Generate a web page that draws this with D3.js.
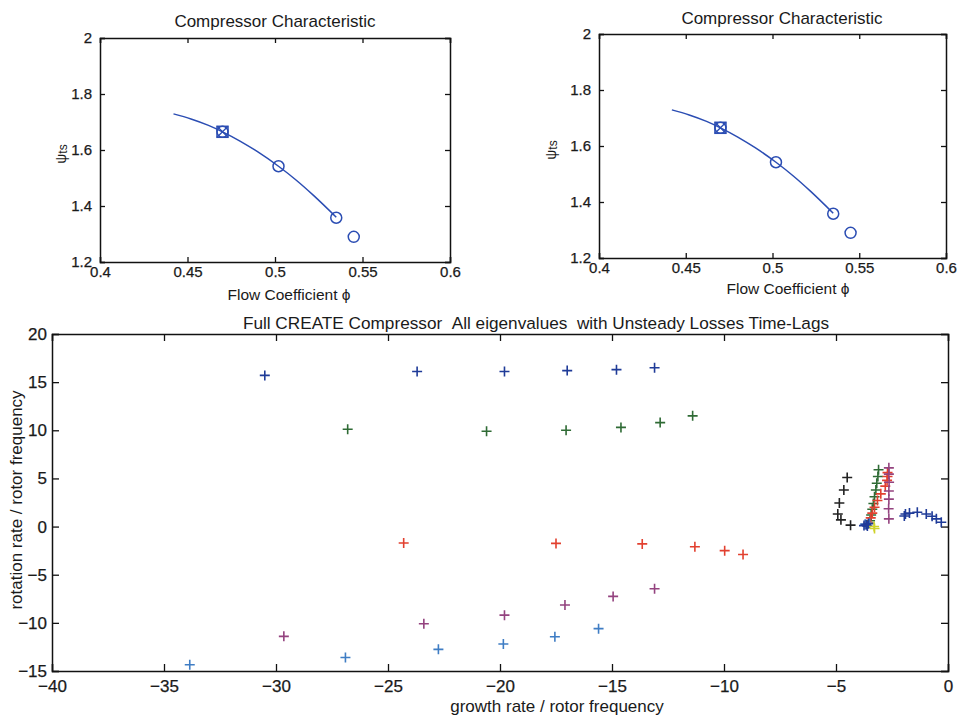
<!DOCTYPE html>
<html lang="en">
<head>
<meta charset="UTF-8">
<title>Compressor eigenvalues</title>
<script src="https://d3js.org/d3.v7.min.js"></script>
<style>
  body { margin: 0; background: #fff; }
  text { font-family: "Liberation Sans", Arial, Helvetica, sans-serif; fill: #1a1a1a; }
</style>
</head>
<body>
<div id="chart"></div>
<script>
// ---- compressor characteristic (top panels) ----
var phiCurve = [0.442, 0.452, 0.462, 0.470, 0.480, 0.490, 0.502, 0.512, 0.522, 0.535];
var psiCurve = [1.729, 1.711, 1.688, 1.665, 1.632, 1.594, 1.542, 1.493, 1.438, 1.360];
var phiPoints = [0.470, 0.502, 0.535, 0.545];
var psiPoints = [1.665, 1.542, 1.358, 1.290];
var opPhi = 0.470, opPsi = 1.665;
var phiTicks = [0.4, 0.45, 0.5, 0.55, 0.6];
var psiTicks = [1.2, 1.4, 1.6, 1.8, 2];

// ---- eigenvalues (bottom panel): growth rate (re), rotation rate (im) ----
var blackRe = [-4.50, -4.65, -4.85, -4.92, -4.78, -4.35];
var blackIm = [5.1, 3.8, 2.45, 1.3, 0.7, 0.15];
var greenRe = [-26.8, -20.6, -17.05, -14.6, -12.85, -11.4, -3.10, -3.13, -3.18, -3.22, -3.28, -3.33, -3.38, -3.43, -3.48];
var greenIm = [10.1, 9.9, 10.0, 10.3, 10.8, 11.5, 5.9, 5.2, 4.5, 3.8, 3.1, 2.4, 1.8, 1.2, 0.6];
var redRe = [-24.3, -17.5, -13.65, -11.3, -9.97, -9.15, -2.70, -2.70, -2.72, -2.80, -3.00, -3.15, -3.28, -3.38, -3.45, -3.55];
var redIm = [-1.7, -1.75, -1.8, -2.1, -2.5, -2.9, 5.6, 5.2, 4.8, 4.2, 3.4, 2.7, 2.0, 1.4, 0.9, 0.4];
var purpleRe = [-29.65, -23.4, -19.8, -17.1, -14.95, -13.1, -2.64, -2.64, -2.63, -2.64, -2.64, -2.65, -2.64];
var purpleIm = [-11.4, -10.1, -9.2, -8.15, -7.25, -6.45, 6.1, 5.45, 4.6, 3.7, 2.85, 1.85, 0.8];
var lightBlueRe = [-33.85, -26.9, -22.75, -19.85, -17.55, -15.6, -3.70, -3.50];
var lightBlueIm = [-14.35, -13.6, -12.75, -12.2, -11.45, -10.6, 0.25, 0.35];
var darkBlueRe = [-30.5, -23.7, -19.8, -17.0, -14.8, -13.1, -3.75, -3.65, -3.55, -3.60, -1.95, -1.90, -1.72, -1.37, -0.97, -0.71, -0.52, -0.30];
var darkBlueIm = [15.7, 16.1, 16.1, 16.2, 16.3, 16.5, 0.1, 0.2, 0.3, 0.05, 1.1, 1.3, 1.4, 1.48, 1.31, 1.07, 0.8, 0.45];
var yellowRe = [-3.28, -3.30];
var yellowIm = [-0.2, 0.0];
var growthTicks = [-40, -35, -30, -25, -20, -15, -10, -5, 0];
var rotationTicks = [-15, -10, -5, 0, 5, 10, 15, 20];

var series = [
  { re: blackRe, im: blackIm, color: "#222222" },
  { re: greenRe, im: greenIm, color: "#2f6b35" },
  { re: redRe, im: redIm, color: "#e2402f" },
  { re: purpleRe, im: purpleIm, color: "#94437f" },
  { re: lightBlueRe, im: lightBlueIm, color: "#3f7dc4" },
  { re: darkBlueRe, im: darkBlueIm, color: "#1f3b98" },
  { re: yellowRe, im: yellowIm, color: "#cfd22a" }
];

var svg = d3.select("#chart").append("svg")
  .attr("width", 961).attr("height", 721);
svg.append("rect").attr("width", 961).attr("height", 721).attr("fill", "#fff");

// MATLAB style box: ticks inward on all four sides
function boxAxes(g, x, y, xt, yt, tickLen, padX, padY, fontSize) {
  var r = x.range(), h = y.range();
  g.append("g").attr("transform", "translate(0," + h[0] + ")")
    .call(d3.axisBottom(x).tickValues(xt).tickSize(-tickLen).tickPadding(padX).tickFormat(d3.format("")));
  g.append("g").attr("transform", "translate(0," + h[1] + ")")
    .call(d3.axisTop(x).tickValues(xt).tickSize(-tickLen).tickFormat(""));
  g.append("g").attr("transform", "translate(" + r[0] + ",0)")
    .call(d3.axisLeft(y).tickValues(yt).tickSize(-tickLen).tickPadding(padY).tickFormat(d3.format("")));
  g.append("g").attr("transform", "translate(" + r[1] + ",0)")
    .call(d3.axisRight(y).tickValues(yt).tickSize(-tickLen).tickFormat(""));
  g.selectAll(".domain").attr("stroke", "#111").attr("stroke-width", 1.5);
  g.selectAll(".tick line").attr("stroke", "#111").attr("stroke-width", 1.3);
  g.selectAll(".tick text").attr("font-size", fontSize).attr("fill", "#1a1a1a")
    .attr("stroke", "#1a1a1a").attr("stroke-width", 0.25)
    .attr("font-family", "Liberation Sans, Arial, sans-serif");
}

function characteristic(left, right, top, bottom, titleX, titleY, xlabX, xlabY, ylabX) {
  var x = d3.scaleLinear().domain([0.4, 0.6]).range([left, right]);
  var y = d3.scaleLinear().domain([1.2, 2]).range([bottom, top]);
  var g = svg.append("g");
  boxAxes(g, x, y, phiTicks, psiTicks, 5, 4, 8, 15);

  var line = d3.line().x(function (d) { return x(d[0]); }).y(function (d) { return y(d[1]); }).curve(d3.curveMonotoneX);
  g.append("path").datum(d3.zip(phiCurve, psiCurve)).attr("d", line)
    .attr("fill", "none").attr("stroke", "#2b4db3").attr("stroke-width", 1.5);

  g.selectAll("circle.pt").data(d3.zip(phiPoints, psiPoints)).enter().append("circle")
    .attr("class", "pt").attr("cx", function (d) { return x(d[0]); }).attr("cy", function (d) { return y(d[1]); })
    .attr("r", 5.5).attr("fill", "none").attr("stroke", "#2b4db3").attr("stroke-width", 1.5);

  var ox = x(opPhi), oy = y(opPsi), s = 5.5;
  g.append("rect").attr("x", ox - s).attr("y", oy - s).attr("width", 2 * s).attr("height", 2 * s)
    .attr("fill", "none").attr("stroke", "#2b4db3").attr("stroke-width", 1.5);
  g.append("path").attr("d", "M" + (ox - s) + "," + (oy - s) + "L" + (ox + s) + "," + (oy + s) +
      "M" + (ox + s) + "," + (oy - s) + "L" + (ox - s) + "," + (oy + s))
    .attr("stroke", "#2b4db3").attr("stroke-width", 1.3);

  svg.append("text").attr("x", titleX).attr("y", titleY).attr("text-anchor", "middle")
    .attr("font-size", 17).text("Compressor Characteristic");
  svg.append("text").attr("x", xlabX).attr("y", xlabY).attr("text-anchor", "middle")
    .attr("font-size", 15.5).text("Flow Coefficient \u03d5");
  var yl = svg.append("text").attr("transform", "translate(" + ylabX + "," + ((top + bottom) / 2 + 4) + ") rotate(-90)")
    .attr("text-anchor", "middle").attr("font-size", 14);
  yl.append("tspan").text("\u03c8");
  yl.append("tspan").attr("font-size", 12).attr("dy", 1).text("ts");
}

characteristic(100, 450, 38, 262, 275, 27, 289, 300, 66);
characteristic(599, 946, 34, 258, 782, 24, 788, 294, 556);

// ---- eigenvalue map ----
var ex = d3.scaleLinear().domain([-40, 0]).range([52, 948]);
var ey = d3.scaleLinear().domain([-15, 20]).range([671, 334]);
var eg = svg.append("g");
boxAxes(eg, ex, ey, growthTicks, rotationTicks, 7, 9, 5, 17);

series.forEach(function (s) {
  eg.selectAll(null).data(d3.zip(s.re, s.im)).enter().append("path")
    .attr("transform", function (d) { return "translate(" + ex(d[0]) + "," + ey(d[1]) + ")"; })
    .attr("d", "M-5,0H5M0,-5V5")
    .attr("stroke", s.color).attr("stroke-width", 1.6).attr("fill", "none");
});

svg.append("text").attr("x", 536).attr("y", 329).attr("text-anchor", "middle").attr("font-size", 17.2)
  .text("Full CREATE Compressor \u00a0All eigenvalues \u00a0with Unsteady Losses Time-Lags");
svg.append("text").attr("x", 557).attr("y", 712).attr("text-anchor", "middle").attr("font-size", 17)
  .text("growth rate / rotor frequency");
svg.append("text").attr("transform", "translate(22,500) rotate(-90)").attr("text-anchor", "middle")
  .attr("font-size", 17).text("rotation rate / rotor frequency");
</script>
</body>
</html>
